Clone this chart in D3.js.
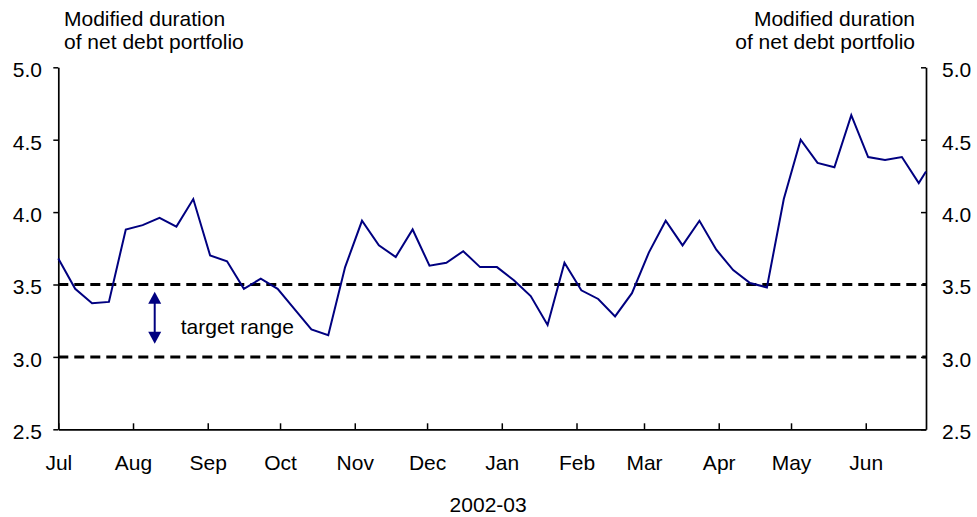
<!DOCTYPE html>
<html>
<head>
<meta charset="utf-8">
<script src="https://cdn.jsdelivr.net/npm/d3@7"></script>
<style>
  body { margin: 0; background: #fff; }
  text { font-family: "Liberation Sans", Arial, sans-serif; fill: #000; }
</style>
</head>
<body>
<svg id="chart" width="977" height="517"></svg>
<script>
// Weekly observations of the modified duration of the net debt portfolio, 2002-03
const dates = [
  "2002-07-01", "2002-07-08", "2002-07-15", "2002-07-22", "2002-07-29",
  "2002-08-05", "2002-08-12", "2002-08-19", "2002-08-26",
  "2002-09-02", "2002-09-09", "2002-09-16", "2002-09-23", "2002-09-30",
  "2002-10-07", "2002-10-14", "2002-10-21", "2002-10-28",
  "2002-11-04", "2002-11-11", "2002-11-18", "2002-11-25",
  "2002-12-02", "2002-12-09", "2002-12-16", "2002-12-23", "2002-12-30",
  "2003-01-06", "2003-01-13", "2003-01-20", "2003-01-27",
  "2003-02-03", "2003-02-10", "2003-02-17", "2003-02-24",
  "2003-03-03", "2003-03-10", "2003-03-17", "2003-03-24", "2003-03-31",
  "2003-04-07", "2003-04-14", "2003-04-21", "2003-04-28",
  "2003-05-05", "2003-05-12", "2003-05-19", "2003-05-26",
  "2003-06-02", "2003-06-09", "2003-06-16", "2003-06-23", "2003-06-26"
];
const duration = [
  3.68, 3.47, 3.37, 3.38, 3.88,
  3.91, 3.96, 3.90, 4.09,
  3.70, 3.66, 3.47, 3.54, 3.47,
  3.33, 3.19, 3.15, 3.62,
  3.94, 3.77, 3.69, 3.88,
  3.63, 3.65, 3.73, 3.62, 3.62,
  3.53, 3.42, 3.22, 3.65,
  3.46, 3.40, 3.28, 3.44,
  3.72, 3.94, 3.77, 3.94, 3.74,
  3.60, 3.51, 3.48, 4.09,
  4.50, 4.34, 4.31, 4.67,
  4.38, 4.36, 4.38, 4.20, 4.28
];
const monthTicks = [
  "2002-07-01", "2002-08-01", "2002-09-01", "2002-10-01", "2002-11-01", "2002-12-01",
  "2003-01-01", "2003-02-01", "2003-03-01", "2003-04-01", "2003-05-01", "2003-06-01"
];
const yTicks = [2.5, 3.0, 3.5, 4.0, 4.5, 5.0];
const targetRange = [3.0, 3.5];
const unitLabel = ["Modified duration", "of net debt portfolio"];
const periodLabel = "2002-03";
const rangeLabel = "target range";
// Annotation arrow spanning the target band
const arrowDate = "2002-08-10";
const arrowEnds = [3.45, 3.09];

const parse = d3.timeParse("%Y-%m-%d");
const series = dates.map((d, i) => ({ date: parse(d), value: duration[i] }));

const plot = { left: 58.3, right: 926, top: 67.3, bottom: 429.3 };
const FONT = 21;
const NAVY = "#000080";

const svg = d3.select("#chart");

const x = d3.scaleTime()
  .domain([parse(dates[0]), parse(dates[dates.length - 1])])
  .range([plot.left, plot.right]);
const y = d3.scaleLinear().domain([2.5, 5.0]).range([plot.bottom, plot.top]);

// Target band boundaries
svg.append("g").selectAll("line")
  .data(targetRange)
  .join("line")
  .attr("x1", plot.left).attr("x2", plot.right)
  .attr("y1", d => y(d)).attr("y2", d => y(d))
  .attr("stroke", "#000")
  .attr("stroke-width", 3)
  .attr("stroke-dasharray", "10,6");

// Axes
function styleAxis(g) {
  g.select(".domain").attr("stroke", "#000").attr("stroke-width", 1.7);
  g.selectAll(".tick line").attr("stroke", "#000").attr("stroke-width", 1.5);
  g.selectAll(".tick text")
    .style("font-family", '"Liberation Sans", Arial, sans-serif')
    .style("font-size", FONT + "px")
    .attr("fill", "#000");
}

const xAxis = d3.axisBottom(x)
  .tickValues(monthTicks.map(parse))
  .tickFormat(d3.timeFormat("%b"))
  .tickSizeInner(-6)
  .tickSizeOuter(0)
  .tickPadding(26);
svg.append("g")
  .attr("transform", `translate(0,${plot.bottom})`)
  .call(xAxis)
  .call(styleAxis);

const yLeft = d3.axisLeft(y)
  .tickValues(yTicks)
  .tickFormat(d3.format(".1f"))
  .tickSizeInner(5)
  .tickSizeOuter(0)
  .tickPadding(11.3);
svg.append("g")
  .attr("transform", `translate(${plot.left},0)`)
  .call(yLeft)
  .call(styleAxis)
  .call(g => g.selectAll(".tick text").attr("dy", "0.45em"));

const yRight = d3.axisRight(y)
  .tickValues(yTicks)
  .tickFormat(d3.format(".1f"))
  .tickSizeInner(-5)
  .tickSizeOuter(0)
  .tickPadding(16);
svg.append("g")
  .attr("transform", `translate(${plot.right},0)`)
  .call(yRight)
  .call(styleAxis)
  .call(g => g.selectAll(".tick text").attr("dy", "0.45em"));

// Duration series
const line = d3.line()
  .x(d => x(d.date))
  .y(d => y(d.value));
svg.append("path")
  .datum(series)
  .attr("d", line)
  .attr("fill", "none")
  .attr("stroke", NAVY)
  .attr("stroke-width", 2);

// Double-headed arrow marking the target range
const ax = x(parse(arrowDate));
const aTop = y(arrowEnds[0]), aBot = y(arrowEnds[1]);
const headLen = 12, headHalf = 6.5;
const arrow = svg.append("g").attr("fill", NAVY).attr("stroke", NAVY);
arrow.append("line")
  .attr("x1", ax).attr("x2", ax)
  .attr("y1", aTop + headLen - 1).attr("y2", aBot - headLen + 1)
  .attr("stroke-width", 2);
arrow.append("polygon")
  .attr("stroke", "none")
  .attr("points", [[ax, aTop], [ax - headHalf, aTop + headLen], [ax + headHalf, aTop + headLen]].join(" "));
arrow.append("polygon")
  .attr("stroke", "none")
  .attr("points", [[ax, aBot], [ax - headHalf, aBot - headLen], [ax + headHalf, aBot - headLen]].join(" "));

svg.append("text")
  .attr("x", ax + 26)
  .attr("y", y(3.16))
  .style("font-size", FONT + "px")
  .text(rangeLabel);

// Unit labels above both value axes
const unitLeft = svg.append("text").style("font-size", FONT + "px").attr("text-anchor", "start");
const unitRight = svg.append("text").style("font-size", FONT + "px").attr("text-anchor", "end");
unitLabel.forEach((t, i) => {
  unitLeft.append("tspan").attr("x", 64).attr("y", 25.5 + i * 23).text(t);
  unitRight.append("tspan").attr("x", 915).attr("y", 25.5 + i * 23).text(t);
});

// Period label under the month axis
svg.append("text")
  .attr("x", (plot.left + plot.right) / 2 - 4)
  .attr("y", 511.5)
  .attr("text-anchor", "middle")
  .style("font-size", FONT + "px")
  .text(periodLabel);
</script>
</body>
</html>
